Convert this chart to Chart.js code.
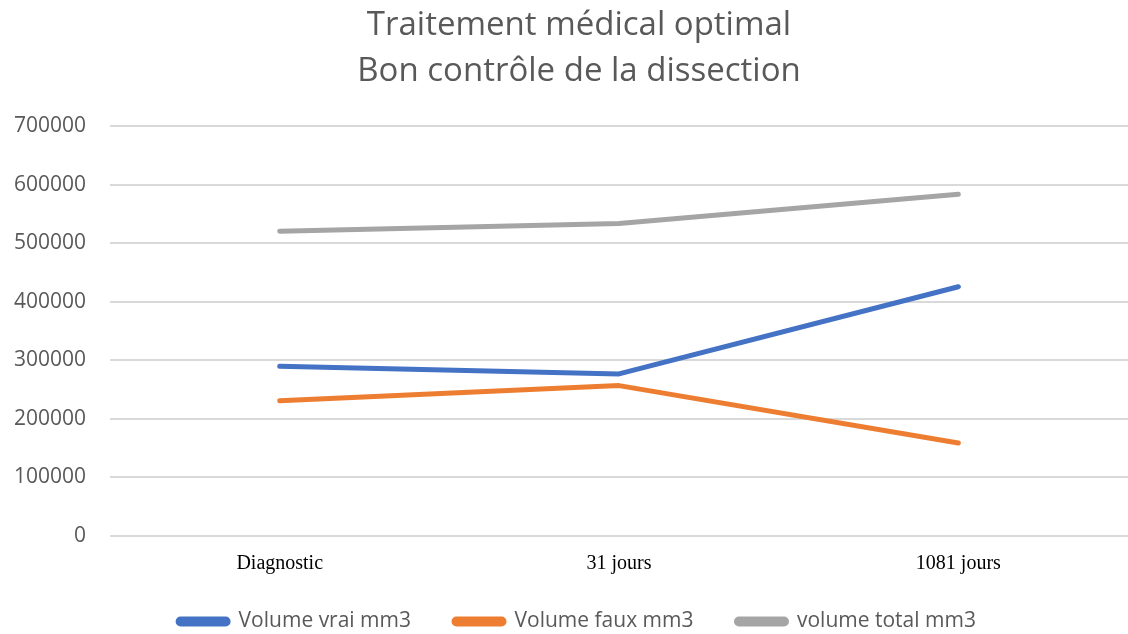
<!DOCTYPE html>
<html>
<head>
<meta charset="utf-8">
<script src="https://cdn.jsdelivr.net/npm/chart.js@4"></script>
<style>
  html, body { margin: 0; padding: 0; background: #fff; }
  #wrap { width: 1128px; height: 634px; }
</style>
</head>
<body>
<div id="wrap"><canvas id="chart" width="1128" height="634"></canvas></div>
<script>
const categories = ['Diagnostic', '31 jours', '1081 jours'];
const volumeVrai = [290000, 277000, 426000];
const volumeFaux = [231000, 257000, 159000];
const volumeTotal = [521000, 534000, 584000];

const gris = '#595959';

// la légende garde un grand écart horizontal mais moins de marge au-dessus,
// titre et légende un peu décalés vers la droite comme dans l'original
const ajustements = {
  id: 'ajustements',
  beforeLayout(chart) {
    const lg = chart.legend, tt = chart.titleBlock;
    if (!lg || lg._fait) return;
    lg._fait = true;
    const fit = lg.fit, draw = lg.draw;
    lg.fit = function () { fit.call(this); this.height -= 16; };
    lg.draw = function () {
      this.top -= 16; this.left += 14; this.right += 14;
      draw.call(this);
      this.top += 16; this.left -= 14; this.right -= 14;
    };
    if (tt) {
      const drawT = tt.draw;
      tt.draw = function () {
        this.left += 16; this.right += 16;
        drawT.call(this);
        this.left -= 16; this.right -= 16;
      };
    }
  }
};

const ctx = document.getElementById('chart').getContext('2d');
new Chart(ctx, {
  type: 'line',
  data: {
    labels: categories,
    datasets: [
      { label: 'Volume vrai mm3', data: volumeVrai, borderColor: '#4472C4', backgroundColor: '#4472C4' },
      { label: 'Volume faux mm3', data: volumeFaux, borderColor: '#ED7D31', backgroundColor: '#ED7D31' },
      { label: 'volume total mm3', data: volumeTotal, borderColor: '#A5A5A5', backgroundColor: '#A5A5A5' },
    ]
  },
  plugins: [ajustements],
  options: {
    responsive: false,
    animation: false,
    layout: { padding: { left: -10, right: -8, top: 0, bottom: -8 } },
    elements: {
      line: { borderWidth: 5, tension: 0, borderCapStyle: 'round', borderJoinStyle: 'round' },
      point: { radius: 0, hoverRadius: 0 }
    },
    scales: {
      x: {
        offset: true,
        grid: { display: false },
        border: { display: false },
        ticks: { color: '#000', font: { family: 'Liberation Serif', size: 20 }, padding: 8 }
      },
      y: {
        min: 0, max: 700000,
        grid: { color: '#D9D9D9', lineWidth: 2, drawTicks: false },
        border: { display: false },
        ticks: {
          stepSize: 100000, color: gris, font: { family: 'Open Sans', size: 21 }, padding: 24,
          callback: v => String(v)
        }
      }
    },
    plugins: {
      title: {
        display: true,
        text: ['Traitement médical optimal', 'Bon contrôle de la dissection'],
        color: gris,
        font: { family: 'Open Sans', size: 33, weight: 'normal', lineHeight: 1.4 },
        padding: { top: 2, bottom: 32 }
      },
      legend: {
        position: 'bottom',
        labels: {
          color: gris,
          font: { family: 'Open Sans', size: 21 },
          boxWidth: 50,
          boxHeight: 5,
          useBorderRadius: true,
          borderRadius: 2.5,
          padding: 43
        }
      },
      tooltip: { enabled: false }
    }
  }
});
</script>
</body>
</html>
